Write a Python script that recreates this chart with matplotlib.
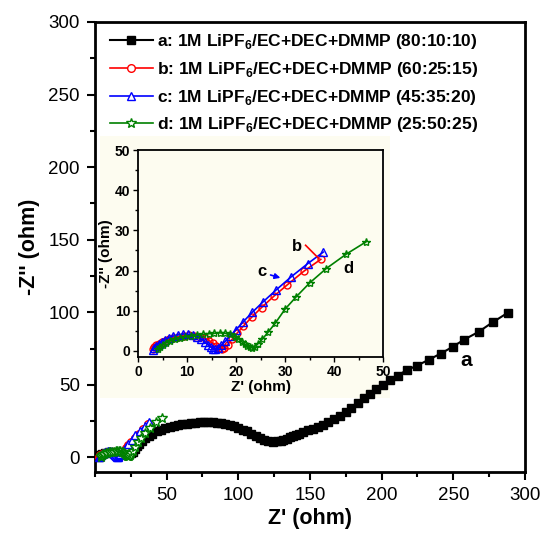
import matplotlib
matplotlib.use('Agg')
import matplotlib.pyplot as plt
from matplotlib.patches import Rectangle
from matplotlib.ticker import MultipleLocator

plt.rcParams['font.family'] = ['Liberation Sans', 'DejaVu Sans']
plt.rcParams['mathtext.fontset'] = 'custom'
plt.rcParams['mathtext.rm'] = 'Liberation Sans'
plt.rcParams['mathtext.bf'] = 'Liberation Sans:bold'

# impedance spectra, Z' and -Z'' in ohm
a_re = [2.5, 3.5, 5, 7, 10, 13, 16, 19, 21.5, 23.5, 25, 26.5, 28, 29.5, 31, 33, 35, 37.5, 40,
        43, 46, 49, 52, 55, 58, 61, 64, 67, 70, 73, 76, 79, 82, 85, 88, 91, 94, 97, 100,
        103, 106, 109, 112, 115, 118, 121, 124, 127, 129.5, 131.2, 134, 136, 138.2, 140,
        142.5, 145.2, 148.7, 152.2, 155.7, 159.2, 162.6, 166.6, 170.8, 175, 178.7, 183.2,
        187.6, 191.8, 196.4, 201.1, 205.7, 211.1, 217.4, 224.8, 233, 241.3, 249.5, 257.6,
        267.6, 277.4, 287.9]
a_im = [0.2, 1.5, 2.5, 3.3, 3.8, 3.8, 3.3, 2.6, 2.2, 2.4, 3.0, 3.8, 5.8, 7.8, 9.6, 11.6, 13.2,
        15.0, 16.5, 18.0, 19.2, 20.1, 21.0, 21.7, 22.3, 22.8, 23.3, 23.7, 24.0, 24.2, 24.3,
        24.3, 24.2, 24.0, 23.6, 23.0, 22.3, 21.4, 20.4, 19.2, 17.9, 16.5, 15.0, 13.6, 12.3,
        11.3, 10.9, 11.0, 11.5, 11.9, 12.9, 13.8, 14.7, 15.5, 16.4, 17.4, 18.6, 19.8, 21.1,
        22.7, 24.3, 26.2, 28.4, 31.2, 34.2, 37.6, 41.1, 44.0, 47.3, 50.2, 53.2, 56.4, 60.1,
        63.3, 67.4, 71.6, 76.2, 81.2, 86.5, 93.1, 99.6]

b_re = [3.0, 3.3, 3.7, 4.2, 4.8, 5.5, 6.3, 7.2, 8.2, 9.3, 10.4, 11.5, 12.6, 13.6, 14.5, 15.3,
        16.0, 16.6, 17.1, 17.6, 18.3, 19.2, 20.2, 21.5, 23.2, 25.2, 27.7, 30.5, 33.8, 37.3]
b_im = [0.5, 1.0, 1.4, 1.8, 2.2, 2.6, 3.0, 3.3, 3.6, 3.8, 3.9, 3.8, 3.6, 3.2, 2.6, 1.9,
        1.2, 0.7, 0.5, 0.7, 1.6, 2.9, 4.4, 6.2, 8.4, 10.8, 13.6, 16.5, 19.8, 22.8]

c_re = [3.0, 3.3, 3.7, 4.2, 4.8, 5.5, 6.3, 7.2, 8.2, 9.2, 10.2, 11.2, 12.1, 12.9, 13.6, 14.2,
        14.8, 15.3, 15.8, 16.3, 17.0, 17.8, 18.8, 20.0, 21.5, 23.3, 25.5, 28.2, 31.3, 34.6, 37.8]
c_im = [0.3, 0.8, 1.3, 1.8, 2.3, 2.8, 3.3, 3.7, 4.0, 4.2, 4.2, 4.0, 3.6, 3.0, 2.3, 1.6,
        1.0, 0.6, 0.5, 0.7, 1.4, 2.4, 3.7, 5.3, 7.3, 9.6, 12.2, 15.2, 18.5, 21.7, 24.6]

d_re = [4.0, 4.5, 5.1, 5.8, 6.6, 7.5, 8.5, 9.6, 10.8, 12.0, 13.2, 14.4, 15.6, 16.7, 17.8, 18.8,
        19.7, 20.5, 21.2, 21.8, 22.3, 22.8, 23.3, 23.8, 24.5, 25.4, 26.5, 28.0, 30.0, 32.3,
        35.0, 38.4, 42.5, 46.6]
d_im = [0.5, 1.1, 1.6, 2.1, 2.5, 2.9, 3.2, 3.5, 3.7, 3.9, 4.1, 4.3, 4.4, 4.5, 4.4, 4.1,
        3.6, 3.0, 2.3, 1.7, 1.2, 0.9, 0.8, 1.1, 1.8, 3.0, 4.6, 6.9, 10.4, 13.5, 16.9, 20.5,
        24.1, 27.2]

labels = [
    r'a: 1M LiPF$_\mathbf{6}$/EC+DEC+DMMP (80:10:10)',
    r'b: 1M LiPF$_\mathbf{6}$/EC+DEC+DMMP (60:25:15)',
    r'c: 1M LiPF$_\mathbf{6}$/EC+DEC+DMMP (45:35:20)',
    r'd: 1M LiPF$_\mathbf{6}$/EC+DEC+DMMP (25:50:25)',
]

cream = '#fdfcf0'

fig = plt.figure(figsize=(5.44, 5.35), dpi=100)
ax = fig.add_axes([0.1746, 0.1178, 0.7904, 0.8411])

# pale backdrop of the inset picture, under the main curves
ax.add_patch(Rectangle((100 / 544, 1 - 398 / 535), 290 / 544, 262 / 535,
                       transform=fig.transFigure, facecolor=cream,
                       edgecolor='none', zorder=1))

l1, = ax.plot(a_re, a_im, '-s', color='black', ms=5.5, lw=1.5, label=labels[0], zorder=3)
l2, = ax.plot(b_re, b_im, '-o', color='red', mfc='white', ms=5.5, mew=1, lw=1.2, label=labels[1], zorder=3)
l3, = ax.plot(c_re, c_im, '-^', color='blue', mfc='white', ms=6, mew=1, lw=1.2, label=labels[2], zorder=3)
l4, = ax.plot(d_re, d_im, '-*', color='green', mfc='white', ms=7, mew=1, lw=1.2, label=labels[3], zorder=3)

ax.set_xlim(0, 300)
ax.set_ylim(-10, 300)
ax.set_xticks([50, 100, 150, 200, 250, 300])
ax.xaxis.set_minor_locator(MultipleLocator(25))
ax.set_yticks([0, 50, 100, 150, 200, 250, 300])
ax.yaxis.set_minor_locator(MultipleLocator(25))
ax.tick_params(which='major', direction='out', length=6, width=1.5, labelsize=13.5, pad=5)
ax.tick_params(which='minor', direction='out', length=3.5, width=1.5)
for s in ax.spines.values():
    s.set_linewidth(2)
ax.set_xlabel("Z' (ohm)", fontsize=15.5, fontweight='bold', labelpad=3)
ax.set_ylabel("-Z'' (ohm)", fontsize=15.5, fontweight='bold', labelpad=6)
ax.text(259, 67, 'a', fontsize=15, fontweight='bold', ha='center', va='center')

leg = ax.legend(handles=[l1, l2, l3, l4], loc='upper left', frameon=False,
                prop={'weight': 'bold', 'size': 12.5}, handlelength=2.5,
                handletextpad=0.2, labelspacing=0.5, borderaxespad=0.2,
                bbox_to_anchor=(0.01, 1.0))

ins = fig.add_axes([0.2537, 0.3327, 0.4504, 0.3869], zorder=3)
ins.set_facecolor(cream)
ins.plot(b_re, b_im, '-o', color='red', mfc='none', ms=5, mew=1, lw=1.2)
ins.plot(c_re, c_im, '-^', color='blue', mfc='none', ms=5.5, mew=1, lw=1.2)
ins.plot(d_re, d_im, '-*', color='green', mfc='none', ms=6, mew=1, lw=1.2)
ins.set_xlim(0, 50)
ins.set_ylim(-1.5, 50)
ins.set_xticks([0, 10, 20, 30, 40, 50])
ins.set_yticks([0, 10, 20, 30, 40, 50])
ins.xaxis.set_minor_locator(MultipleLocator(5))
ins.yaxis.set_minor_locator(MultipleLocator(5))
ins.tick_params(which='major', direction='out', length=3.5, width=1, labelsize=10, pad=2)
ins.tick_params(which='minor', direction='out', length=2, width=1)
for lab in ins.get_xticklabels() + ins.get_yticklabels():
    lab.set_fontweight('bold')
for s in ins.spines.values():
    s.set_linewidth(1.3)
ins.set_xlabel("Z' (ohm)", fontsize=11, fontweight='bold', labelpad=1)
ins.set_ylabel("-Z'' (ohm)", fontsize=11, fontweight='bold', labelpad=1)

ins.text(32.4, 25.9, 'b', fontsize=12, fontweight='bold', ha='center', va='center')
ins.plot([34.2, 36.9], [26.3, 23.0], color='red', lw=1.2)
ins.text(25.2, 19.7, 'c', fontsize=12, fontweight='bold', ha='center', va='center')
ins.annotate('', xy=(29.6, 18.0), xytext=(26.5, 19.1),
             arrowprops=dict(arrowstyle='-|>', color='blue', lw=1.2, mutation_scale=8))
ins.text(42.9, 20.5, 'd', fontsize=12, fontweight='bold', ha='center', va='center')

fig.savefig('out.png', dpi=100)
